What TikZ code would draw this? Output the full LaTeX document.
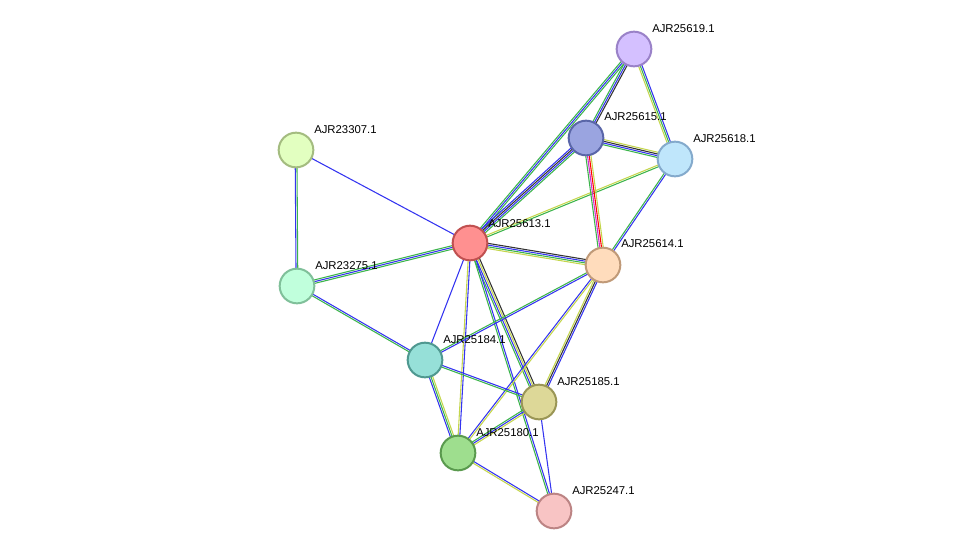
\documentclass[tikz,border=0pt]{standalone}
\usepackage{fontspec}
\setmainfont{Liberation Sans}
\usetikzlibrary{calc}
\definecolor{eg}{HTML}{3CB44B}
\definecolor{eb}{HTML}{3434F0}
\definecolor{ey}{HTML}{C4D64C}
\definecolor{ek}{HTML}{333333}
\definecolor{em}{HTML}{D030D0}
\tikzset{
  prot/.style={circle,minimum size=26pt,inner sep=0pt,line width=1.5pt},
  lab/.style={font=\fontsize{8.5pt}{10pt}\selectfont,anchor=south west,inner sep=0pt},
  ln/.style={line width=0.8pt}
}
% \edg{a}{b}{colour list}
\newcommand\edg[3]{%
  \foreach \c [count=\i] in {#3}{\global\let\nn\i}%
  \foreach \c [count=\i] in {#3}{%
    \pgfmathsetmacro\off{(\i-(\nn+1)/2)*1.3}%
    \draw[ln,\c] ($(#1)!\off pt!90:(#2)$) -- ($(#2)!\off pt!-90:(#1)$);
  }}
\begin{document}
\begin{tikzpicture}[x=0.75pt,y=-0.75pt]
\useasboundingbox (0,0) rectangle (975,557);
\coordinate (p19) at (634,49);
\coordinate (p15) at (586,138);
\coordinate (p18) at (675,159);
\coordinate (p07) at (296,150);
\coordinate (p13) at (470,243);
\coordinate (p14) at (603,265);
\coordinate (p75) at (297,286);
\coordinate (p84) at (425,360);
\coordinate (p85) at (539,402);
\coordinate (p80) at (458,453);
\coordinate (p47) at (554,511);
\edg{p07}{p13}{eb}
\edg{p07}{p75}{eb,eg}
\edg{p75}{p13}{eg,eb,eg}
\edg{p75}{p84}{eg,eb}
\edg{p13}{p19}{eg,eb,eg}
\edg{p13}{p15}{eg,eb,ek,eb}
\edg{p13}{p18}{eg,ey}
\edg{p13}{p14}{ey,eg,eb,ek}
\edg{p13}{p84}{eb}
\edg{p13}{p85}{eg,eb,ey,ek}
\edg{p13}{p80}{ey,eb}
\edg{p13}{p47}{eg,eb}
\edg{p19}{p15}{eg,eb,ek}
\edg{p19}{p18}{ey,eg,eb}
\edg{p15}{p18}{eg,eb,ek,ey}
\edg{p15}{p14}{eg,em,red,ey}
\edg{p18}{p14}{eg,eb}
\edg{p14}{p84}{eg,eb}
\edg{p14}{p85}{ey,ek,eb}
\edg{p14}{p80}{eb,ey}
\edg{p84}{p85}{eg,eb}
\edg{p84}{p80}{eb,eg,ey}
\edg{p85}{p80}{eg,eb,ey}
\edg{p85}{p47}{eb}
\edg{p80}{p47}{ey,eb}
\node[prot,fill={rgb,255:red,212;green,192;blue,255},draw={rgb,255:red,154;green,130;blue,200}] (n19) at (p19) {};
\node[prot,fill={rgb,255:red,154;green,164;blue,224},draw={rgb,255:red,90;green,102;blue,168}] (n15) at (p15) {};
\node[prot,fill={rgb,255:red,191;green,230;blue,251},draw={rgb,255:red,132;green,170;blue,204}] (n18) at (p18) {};
\node[prot,fill={rgb,255:red,226;green,255;blue,192},draw={rgb,255:red,164;green,188;blue,128}] (n07) at (p07) {};
\node[prot,fill={rgb,255:red,255;green,144;blue,144},draw={rgb,255:red,192;green,80;blue,80}] (n13) at (p13) {};
\node[prot,fill={rgb,255:red,255;green,220;blue,188},draw={rgb,255:red,192;green,154;blue,120}] (n14) at (p14) {};
\node[prot,fill={rgb,255:red,192;green,255;blue,220},draw={rgb,255:red,128;green,192;blue,154}] (n75) at (p75) {};
\node[prot,fill={rgb,255:red,150;green,224;blue,216},draw={rgb,255:red,79;green,152;blue,144}] (n84) at (p84) {};
\node[prot,fill={rgb,255:red,221;green,216;blue,152},draw={rgb,255:red,154;green,150;blue,86}] (n85) at (p85) {};
\node[prot,fill={rgb,255:red,158;green,222;blue,142},draw={rgb,255:red,90;green,154;blue,78}] (n80) at (p80) {};
\node[prot,fill={rgb,255:red,248;green,196;blue,196},draw={rgb,255:red,188;green,132;blue,132}] (n47) at (p47) {};
\node[lab] at (652,33) {AJR25619.1};
\node[lab] at (604,121) {AJR25615.1};
\node[lab] at (693,143) {AJR25618.1};
\node[lab] at (314,134) {AJR23307.1};
\node[lab] at (488,228) {AJR25613.1};
\node[lab] at (621,248) {AJR25614.1};
\node[lab] at (315,270) {AJR23275.1};
\node[lab] at (443,344) {AJR25184.1};
\node[lab] at (557,386) {AJR25185.1};
\node[lab] at (476,437) {AJR25180.1};
\node[lab] at (572,495) {AJR25247.1};
\end{tikzpicture}
\end{document}
